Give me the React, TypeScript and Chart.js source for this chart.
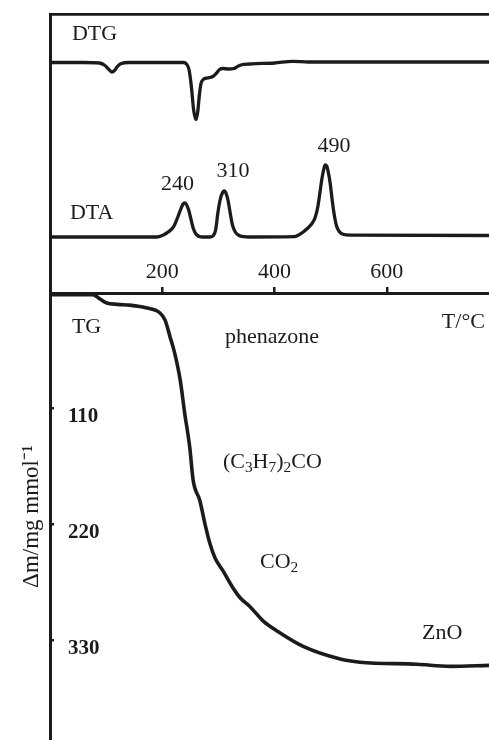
import React, { useEffect, useRef } from 'react';
import { Chart, registerables } from 'chart.js';

Chart.register(...registerables);

const W = 489;
const H = 740;

// temperature axis (°C)
const X_MIN = 0;
const X_MAX = 782;
const X_TICKS = [200, 400, 600];

// TG axis (Δm / mg mmol⁻¹)
const TG_MIN = 0;
const TG_MAX = 425;
const TG_TICKS = [110, 220, 330];

// DTG curve (arbitrary units, 0 = baseline)
const DTG_T = [0, 60, 88, 98, 105, 110, 115, 120, 127, 140, 200, 238, 243, 248, 252, 256, 260, 263, 266, 269, 273, 280, 290, 296, 302, 308, 318, 328, 334, 340, 356, 400, 432, 460, 520, 782];
const DTG_V = [0, 0, -0.5, -3, -7, -9.5, -8, -4, -1, 0, 0, 0, -1.5, -8, -25, -48, -57, -50, -33, -21, -17, -15.5, -14, -11, -7, -6, -6.5, -6, -4, -2.5, -1.5, -0.5, 1.2, 0.5, 0.5, 0.5];

// DTA curve (arbitrary units, 0 = baseline)
const DTA_T = [0, 190, 200, 208, 215, 221, 227, 233, 237, 240, 243, 247, 251, 255, 260, 266, 272, 285, 291, 295, 299, 303, 307, 310, 313, 317, 321, 325, 330, 337, 345, 355, 435, 443, 451, 466, 472, 477, 481, 484, 487, 490, 493, 496, 499, 502, 505, 508, 511, 516, 522, 535, 782];
const DTA_V = [0, 0, 1.5, 4, 7, 11, 19, 28, 33, 34, 32.5, 27, 18, 9, 3, 0.5, 0, 0, 1.5, 7, 24, 37, 44, 46, 44.5, 37, 24, 12, 5, 1.5, 0.3, 0, 0.3, 2, 5, 13, 19, 30, 45, 57, 66, 72, 71, 64, 54, 40, 27, 17, 10, 5, 2.7, 1.8, 1.5];
const DTA_PEAK_LABELS = ['240', '310', '490'];
const DTA_PEAK_LABEL_T = [227, 326, 506];
const DTA_PEAK_LABEL_V = [47, 60, 85];

// TG curve
const TG_T = [0, 76, 89, 101, 120, 142, 173, 196, 205, 214, 222, 232, 240, 249, 255, 267, 276, 285, 294, 308, 326, 339, 356, 380, 405, 451, 517, 552, 654, 713, 782];
const TG_V = [1.5, 1.5, 5.7, 9.5, 10.8, 11.5, 14.3, 19, 25.8, 42, 57, 83, 114.5, 147, 178, 197.5, 219.5, 238.5, 252, 264, 280.5, 290, 298, 312, 321.5, 336, 348, 351, 353, 355, 354];

const FAMILY = '"Liberation Serif", "Times New Roman", serif';
const INK = '#1b1b1b';

type Run = { t: string; sub?: boolean };
type Note = { runs: Run[]; x: number; y: number; axis: string; align?: 'left' | 'center' };

const TOP_NOTES: Note[] = [
  { runs: [{ t: 'DTG' }], x: 39, y: 23, axis: 'yDTG' },
  { runs: [{ t: 'DTA' }], x: 35.6, y: 18, axis: 'yDTA' },
  ...DTA_PEAK_LABELS.map((l, i) => ({ runs: [{ t: l }], x: DTA_PEAK_LABEL_T[i], y: DTA_PEAK_LABEL_V[i], axis: 'yDTA', align: 'center' as const })),
];

const TG_NOTES: Note[] = [
  { runs: [{ t: 'TG' }], x: 39, y: 38, axis: 'y' },
  { runs: [{ t: 'phenazone' }], x: 311.7, y: 47.7, axis: 'y' },
  { runs: [{ t: 'T/°C' }], x: 698, y: 33.4, axis: 'y' },
  { runs: [{ t: '(C' }, { t: '3', sub: true }, { t: 'H' }, { t: '7', sub: true }, { t: ')' }, { t: '2', sub: true }, { t: 'CO' }], x: 308, y: 166, axis: 'y' },
  { runs: [{ t: 'CO' }, { t: '2', sub: true }], x: 374, y: 261.5, axis: 'y' },
  { runs: [{ t: 'ZnO' }], x: 662.6, y: 329, axis: 'y' },
];

const pts = (t: number[], v: number[]) => t.map((x, i) => ({ x, y: v[i] }));

function drawRuns(ctx: CanvasRenderingContext2D, runs: Run[], x: number, y: number, size: number, align: string) {
  const widths = runs.map((r) => {
    ctx.font = `${r.sub ? size * 0.7 : size}px ${FAMILY}`;
    return ctx.measureText(r.t).width;
  });
  const total = widths.reduce((a, b) => a + b, 0);
  let cx = align === 'center' ? x - total / 2 : x;
  runs.forEach((r, i) => {
    ctx.font = `${r.sub ? size * 0.7 : size}px ${FAMILY}`;
    ctx.fillText(r.t, cx, r.sub ? y + size * 0.2 : y);
    cx += widths[i];
  });
}

function notesPlugin(id: string, notes: Note[], size: number) {
  return {
    id,
    afterDatasetsDraw(chart: any) {
      const ctx = chart.ctx as CanvasRenderingContext2D;
      ctx.save();
      ctx.fillStyle = INK;
      ctx.textBaseline = 'alphabetic';
      ctx.textAlign = 'left';
      notes.forEach((n) => {
        const px = chart.scales.x.getPixelForValue(n.x);
        const py = chart.scales[n.axis].getPixelForValue(n.y);
        drawRuns(ctx, n.runs, px, py, size, n.align || 'left');
      });
      ctx.restore();
    },
  };
}

const lineStyle = {
  borderColor: INK,
  borderWidth: 3.3,
  pointRadius: 0,
  fill: false,
  cubicInterpolationMode: 'monotone' as const,
  borderCapStyle: 'round' as const,
  borderJoinStyle: 'round' as const,
};

const noPad = (s: any) => {
  s.paddingTop = 0;
  s.paddingBottom = 0;
  s.paddingLeft = 0;
  s.paddingRight = 0;
};

export default function App() {
  const aRef = useRef<HTMLCanvasElement>(null);
  const bRef = useRef<HTMLCanvasElement>(null);

  useEffect(() => {
    const a = new Chart(aRef.current as HTMLCanvasElement, {
      type: 'line',
      data: {
        datasets: [
          { label: 'DTG', data: pts(DTG_T, DTG_V), yAxisID: 'yDTG', ...lineStyle },
          { label: 'DTA', data: pts(DTA_T, DTA_V), yAxisID: 'yDTA', ...lineStyle },
        ],
      },
      options: {
        animation: false,
        responsive: false,
        devicePixelRatio: 1,
        layout: { padding: { left: 50, top: 14, right: 0, bottom: 447 } },
        plugins: { legend: { display: false }, tooltip: { enabled: false } },
        scales: {
          x: {
            type: 'linear',
            position: 'top',
            min: X_MIN,
            max: X_MAX,
            ticks: { display: false },
            grid: { display: true, drawOnChartArea: false, drawTicks: false },
            border: { display: true, color: INK, width: 2.8 },
            afterFit: (s: any) => { s.height = 0; noPad(s); },
          },
          yDTG: {
            type: 'linear',
            position: 'left',
            min: -230.5,
            max: 48.5,
            ticks: { display: false },
            grid: { display: true, drawOnChartArea: false, drawTicks: false },
            border: { display: true, color: INK, width: 3 },
            afterFit: (s: any) => { s.width = 0; noPad(s); },
          },
          yDTA: {
            type: 'linear',
            position: 'left',
            min: -56,
            max: 223,
            display: false,
            afterFit: (s: any) => { s.width = 0; noPad(s); },
          },
        },
      } as any,
      plugins: [notesPlugin('topNotes', TOP_NOTES, 22)],
    });

    const b = new Chart(bRef.current as HTMLCanvasElement, {
      type: 'line',
      data: {
        datasets: [{ label: 'TG', data: pts(TG_T, TG_V), yAxisID: 'y', ...lineStyle, borderWidth: 3.6 }],
      },
      options: {
        animation: false,
        responsive: false,
        devicePixelRatio: 1,
        layout: { padding: { left: 0, top: 263, right: 0, bottom: 0 } },
        plugins: { legend: { display: false }, tooltip: { enabled: false } },
        scales: {
          x: {
            type: 'linear',
            position: 'top',
            min: X_MIN,
            max: X_MAX,
            afterBuildTicks: (s: any) => { s.ticks = X_TICKS.map((v) => ({ value: v })); },
            ticks: { color: INK, font: { family: FAMILY, size: 22 }, padding: 2, maxRotation: 0, autoSkip: false },
            grid: { display: true, drawOnChartArea: false, drawTicks: true, tickLength: 6, lineWidth: 2.5, color: INK },
            border: { display: true, color: INK, width: 3 },
            afterFit: (s: any) => { s.height = 30; noPad(s); },
          },
          y: {
            type: 'linear',
            position: 'left',
            reverse: true,
            min: TG_MIN,
            max: TG_MAX,
            afterBuildTicks: (s: any) => { s.ticks = TG_TICKS.map((v) => ({ value: v })); },
            ticks: { mirror: true, padding: 18, labelOffset: 8, color: INK, font: { family: FAMILY, size: 21, weight: 'bold' }, autoSkip: false },
            grid: { display: true, drawOnChartArea: false, drawTicks: true, tickLength: -4, lineWidth: 2.5, color: INK },
            border: { display: true, color: INK, width: 3 },
            title: { display: true, text: 'Δm/mg mmol⁻¹', color: INK, font: { family: FAMILY, size: 23 }, padding: { top: 18, bottom: 0 } },
            afterFit: (s: any) => { s.width = 50; noPad(s); },
          },
        },
      } as any,
      plugins: [notesPlugin('tgNotes', TG_NOTES, 22)],
    });

    return () => {
      a.destroy();
      b.destroy();
    };
  }, []);

  return (
    <div style={{ position: 'fixed', left: 0, top: 0, width: W, height: H, background: '#ffffff', overflow: 'hidden' }}>
      <canvas ref={aRef} width={W} height={H} style={{ position: 'absolute', left: 0, top: 0 }} />
      <canvas ref={bRef} width={W} height={H} style={{ position: 'absolute', left: 0, top: 0 }} />
    </div>
  );
}
